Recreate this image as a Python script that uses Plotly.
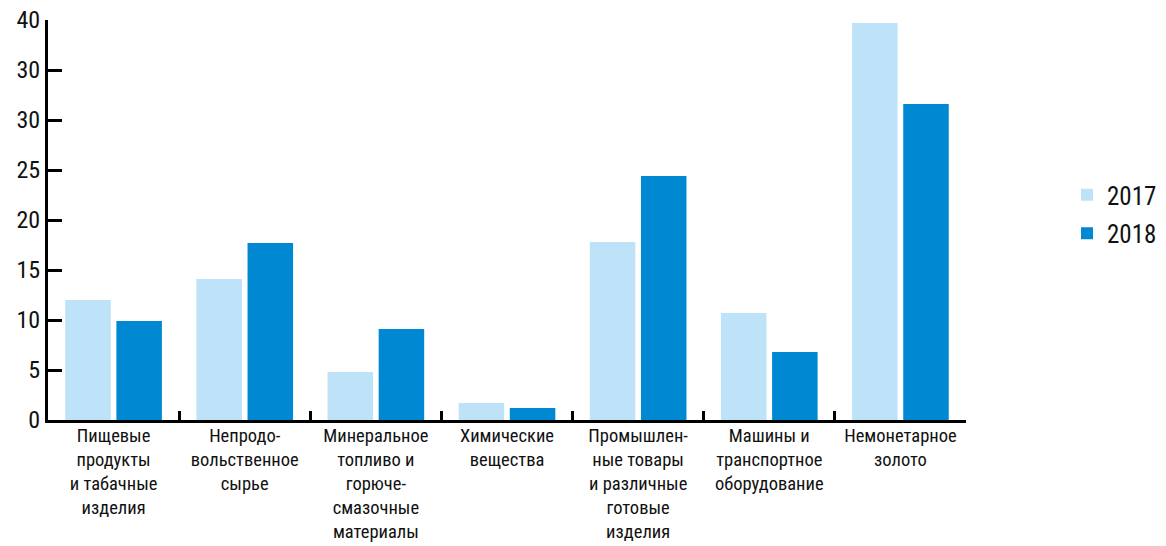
import plotly.graph_objects as go

# categories (x axis), values in %
categories = [
    "Пищевые<br>продукты<br>и табачные<br>изделия",
    "Непродо-<br>вольственное<br>сырье",
    "Минеральное<br>топливо и<br>горюче-<br>смазочные<br>материалы",
    "Химические<br>вещества",
    "Промышлен-<br>ные товары<br>и различные<br>готовые<br>изделия",
    "Машины и<br>транспортное<br>оборудование",
    "Немонетарное<br>золото",
]
values_2017 = [12.0, 14.1, 4.8, 1.7, 17.8, 10.7, 39.7]
values_2018 = [9.9, 17.7, 9.1, 1.2, 24.4, 6.8, 31.6]

# y ticks as printed in the source (the 35 mark is labelled "30" there)
y_tickvals = [0, 5, 10, 15, 20, 25, 30, 35, 40]
y_ticktext = ["0", "5", "10", "15", "20", "25", "30", "30", "40"]

FONT = "Liberation Sans Narrow, Roboto Condensed, Arial Narrow, sans-serif"

fig = go.Figure()
fig.add_trace(go.Bar(x=categories, y=values_2017, name="2017", legendgroup="a",
                     marker=dict(color="#bee3f8", line=dict(width=0))))
fig.add_trace(go.Bar(x=categories, y=values_2018, name="2018", legendgroup="b",
                     marker=dict(color="#0089d2", line=dict(width=0))))

# page body adds ~8px offset, so margins are a bit smaller than the target positions
fig.update_layout(
    width=1166, height=546,
    margin=dict(l=40, r=197, t=12, b=134),
    paper_bgcolor="white", plot_bgcolor="white",
    barmode="group", bargap=0.22, bargroupgap=0.11,
    font=dict(family=FONT, size=19, color="#111111"),
    showlegend=True,
    legend=dict(x=1.11, y=0.515, xanchor="left", yanchor="middle",
                font=dict(size=25), itemwidth=30, tracegroupgap=3),
    xaxis=dict(
        range=[-0.5, 6.5], automargin=False,
        showline=True, linecolor="black", linewidth=3,
        ticks="inside", tickson="boundaries", ticklen=9, tickwidth=3, tickcolor="black",
        tickfont=dict(size=18.5), showgrid=False, zeroline=False,
        tickangle=0, ticklabelstandoff=-3, ticklabeloverflow="allow",
    ),
    yaxis=dict(
        range=[0, 40], automargin=False,
        tickvals=y_tickvals, ticktext=y_ticktext,
        showline=True, linecolor="black", linewidth=3,
        ticks="inside", ticklen=14, tickwidth=3, tickcolor="black",
        tickfont=dict(size=24), showgrid=False, zeroline=False,
        ticklabeloverflow="allow",
    ),
)

fig.write_html("out.html")
